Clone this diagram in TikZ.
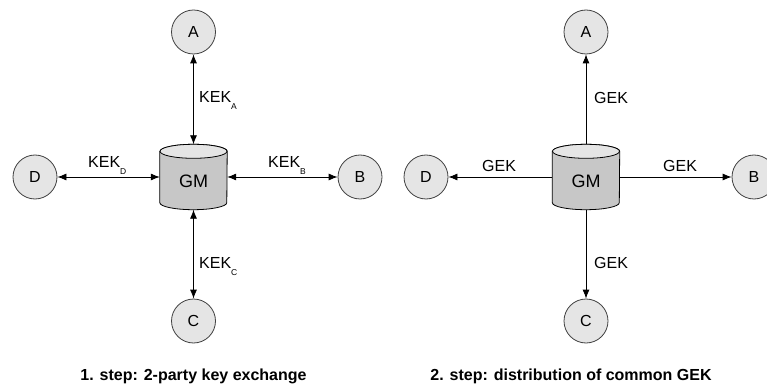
\documentclass[tikz,border=0pt]{standalone}
\usepackage{fontspec}
\setmainfont{Liberation Sans}
\usetikzlibrary{arrows.meta}
\newcommand\drawcyl[1]{%
  \filldraw[fill=black!22,draw=black,line width=0.8pt]
    ([yshift=-7pt]#1.north west) -- ([yshift=7pt]#1.south west)
    arc[start angle=180,end angle=360,x radius=33.5pt,y radius=7pt]
    -- ([yshift=-7pt]#1.north east)
    arc[start angle=0,end angle=180,x radius=33.5pt,y radius=7pt] -- cycle;
  \filldraw[fill=black!10,draw=black,line width=0.8pt]
    ([yshift=-7pt]#1.north) ellipse[x radius=33.5pt,y radius=7pt];
}
\newcommand\subl[1]{\raisebox{-7pt}{\fontsize{8.5}{8.5}\selectfont #1}}
\begin{document}
\begin{tikzpicture}[x=1pt,y=-1pt,
  party/.style={circle,draw=black!75,fill=black!10,line width=0.8pt,minimum size=44pt,inner sep=0pt,font=\fontsize{16}{16}\selectfont},
  gmbox/.style={rectangle,minimum width=67pt,minimum height=65pt,inner sep=0pt},
  gmtext/.style={inner sep=0pt,font=\fontsize{18}{18}\selectfont},
  conn/.style={line width=0.8pt,draw=black},
  onetip/.style={-{Latex[length=9pt,width=7pt]}},
  twotip/.style={{Latex[length=9pt,width=7pt]}-{Latex[length=9pt,width=7pt]}},
  lbl/.style={font=\fontsize{16}{16}\selectfont,inner sep=0pt,anchor=base west},
  captext/.style={font=\bfseries\fontsize{16}{16}\selectfont,inner sep=0pt,anchor=base}]
\useasboundingbox (0,0) rectangle (767,387);

% ---------- left: step 1 ----------
\node[gmbox] (GMa) at (193.5,177) {};
\drawcyl{GMa}
\node[gmtext] (GMat) at (193.5,181) {GM};
\node[party] (Aa) at (193.5,32) {A};
\node[party] (Ba) at (360,177) {B};
\node[party] (Ca) at (193.5,321) {C};
\node[party] (Da) at (35,177) {D};
\draw[conn,twotip] (Aa) -- (GMa);
\draw[conn,twotip] (Ca) -- (GMa);
\draw[conn,twotip] (Da) -- (GMa);
\draw[conn,twotip] (Ba) -- (GMa);
\node[lbl] (lA) at (199,103) {KEK\subl{A}};
\node[lbl] (lC) at (199,268) {KEK\subl{C}};
\node[lbl] (lD) at (88,168) {KEK\subl{D}};
\node[lbl] (lB) at (268,168) {KEK\subl{B}};
\node[captext] (cap1) at (193.5,380) {1. step: 2-party key exchange};

% ---------- right: step 2 ----------
\node[gmbox] (GMb) at (586,177) {};
\drawcyl{GMb}
\node[gmtext] (GMbt) at (586,181) {GM};
\node[party] (Ab) at (586,32) {A};
\node[party] (Bb) at (754,177) {B};
\node[party] (Cb) at (586,321) {C};
\node[party] (Db) at (426,177) {D};
\draw[conn,onetip] (GMb) -- (Ab);
\draw[conn,onetip] (GMb) -- (Cb);
\draw[conn,onetip] (GMb) -- (Db);
\draw[conn,onetip] (GMb) -- (Bb);
\node[lbl] (gA) at (594,104) {GEK};
\node[lbl] (gC) at (594,268) {GEK};
\node[lbl] (gD) at (482,172) {GEK};
\node[lbl] (gB) at (663,172) {GEK};
\node[captext] (cap2) at (571,380) {2. step: distribution of common GEK};
\end{tikzpicture}
\end{document}
